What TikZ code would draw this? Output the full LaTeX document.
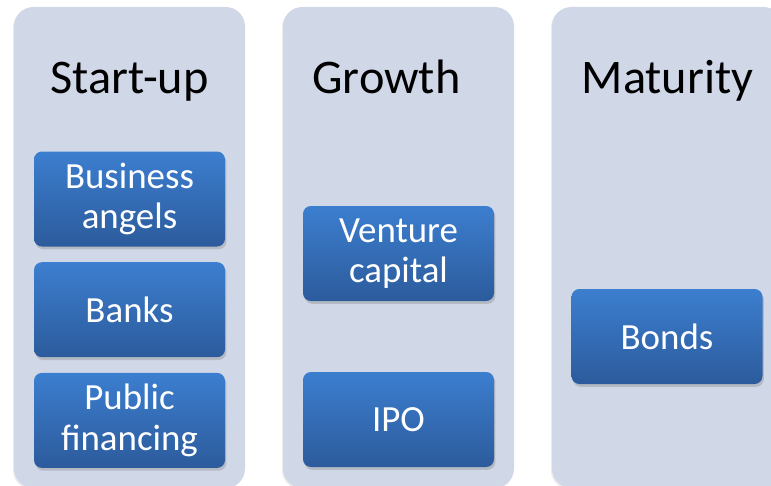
\documentclass[tikz,border=0pt]{standalone}
\usepackage{fontspec}
\setmainfont{Carlito}
\usetikzlibrary{positioning, shadows}

\definecolor{stagebg}{RGB}{208,216,232}
\definecolor{fundtop}{RGB}{60,126,207}
\definecolor{fundbot}{RGB}{44,91,156}

\tikzset{
    stage/.style={rectangle, rounded corners=11pt, fill=stagebg,
        minimum width=4.62cm, minimum height=9.62cm,
        drop shadow={opacity=0.15, shadow xshift=-0.6pt, shadow yshift=-0.8pt}},
    stagetitle/.style={anchor=base, font=\fontsize{27.5}{32}\selectfont},
    fund/.style={rectangle, rounded corners=4.5pt, top color=fundtop, bottom color=fundbot,
        minimum width=3.82cm, minimum height=1.9cm, inner sep=1pt, align=center, text=white,
        font=\fontsize{21}{23}\selectfont,
        drop shadow={opacity=0.35, shadow xshift=0.8pt, shadow yshift=-1.6pt}}
}

\begin{document}
\begin{tikzpicture}
            \useasboundingbox (0,-9.7) rectangle (15.42,0);
            \clip (0,-9.7) rectangle (15.42,0);
            % the three stages
            \node[stage] (startup) at (2.59,-4.95) {};
            \node[stage] (growth) at (7.97,-4.95) {};
            \node[stage] (maturity) at (13.35,-4.95) {};
            \node[stagetitle] (startup_t) at (2.59,-1.86) {Start-up};
            \node[stagetitle] (growth_t) at (7.73,-1.86) {Growth};
            \node[stagetitle] (maturity_t) at (13.35,-1.86) {Maturity};
            % sources of funding
            \node[fund] (angels) at (2.59,-3.98) {Business\\angels};
            \node[fund, below=0.3cm of angels] (banks) {Banks};
            \node[fund, below=0.3cm of banks] (public) {Public\\financing};
            \node[fund] (venture) at (7.97,-5.07) {Venture\\capital};
            \node[fund] (ipo) at (7.97,-8.39) {IPO};
            \node[fund] (bonds) at (13.34,-6.73) {Bonds};
        \end{tikzpicture}
\end{document}
